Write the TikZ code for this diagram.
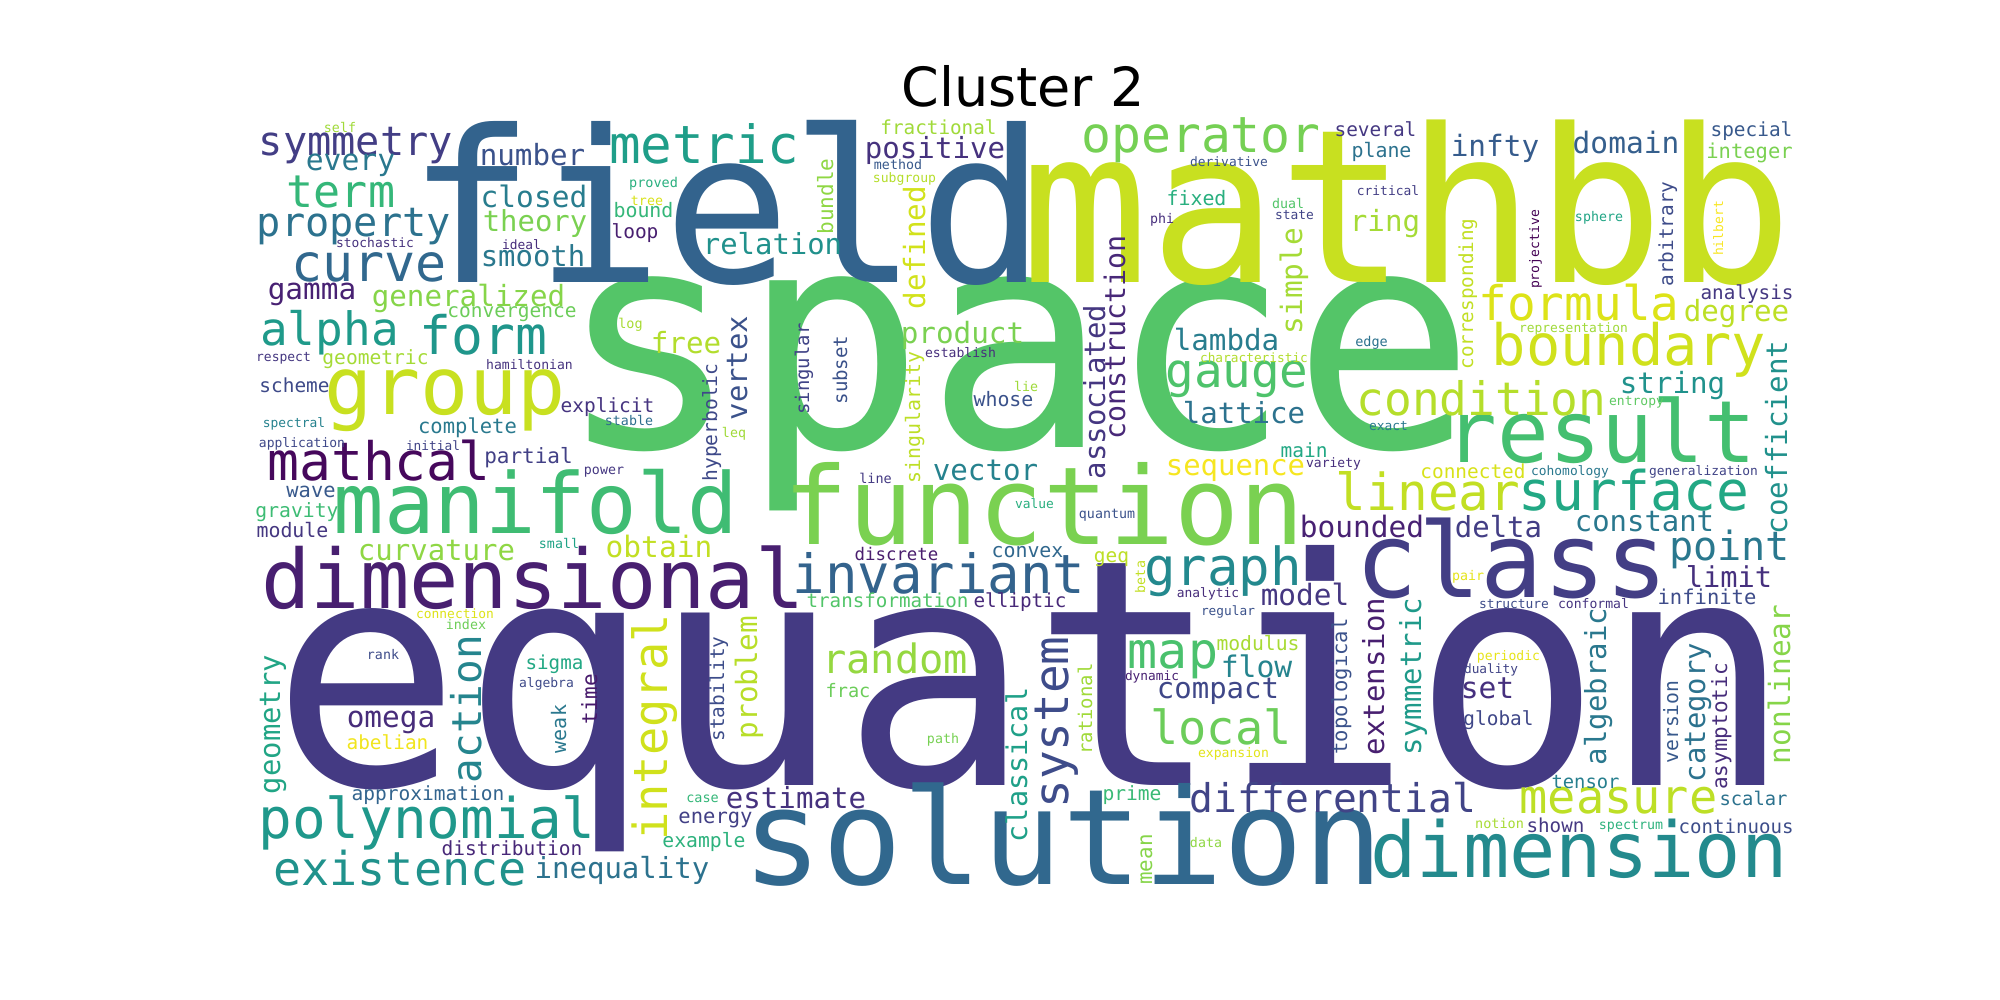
\documentclass[tikz,border=0pt]{standalone}
\usepackage{fontspec}
\newfontfamily\wcfont{DejaVu Sans Mono}
\newfontfamily\ttlfont{DejaVu Sans}
\tikzset{wordbox/.style={inner sep=0pt, outer sep=0pt, anchor=base}}
\newcommand\wrd[6]{\definecolor{wcol}{HTML}{#5}\node[wordbox, text=wcol, font=\wcfont\fontsize{#4}{#4}\selectfont, rotate=#6] (w-#1) at (#2,#3) {#1};}
\begin{document}
\begin{tikzpicture}[x=1pt,y=-1pt]
\fill[white] (0,0) rectangle (2000,1000);
\useasboundingbox (0,0) rectangle (2000,1000);
\node[wordbox, font=\ttlfont\fontsize{54}{54}\selectfont] (title) at (1023,107) {Cluster 2};
% big words
\wrd{equation}{1032}{785}{316}{443A83}{0}
\wrd{space}{1017}{447}{305}{54C568}{0}
\wrd{field}{727}{283}{212}{33638D}{0}
\wrd{mathbb}{1407}{283}{214}{C8E020}{0}
\wrd{solution}{1063}{884}{133}{31688E}{0}
\wrd{function}{1044}{544}{108}{7AD151}{0}
\wrd{class}{1512}{597}{104}{433E85}{0}
\wrd{result}{1601}{462}{86}{44BF70}{0}
\wrd{manifold}{536}{533}{84}{3FBC73}{0}
\wrd{dimensional}{533}{608}{82}{481F70}{0}
\wrd{group}{445}{414}{80}{C8E020}{0}
\wrd{dimension}{1579}{877}{77}{238A8D}{0}
\wrd{polynomial}{427}{838}{56}{1F988B}{0}
\wrd{boundary}{1629}{365}{57}{D0E11C}{0}
\wrd{invariant}{939}{593}{54}{33638D}{0}
\wrd{surface}{1634}{510}{54.6}{22A884}{0}
\wrd{mathcal}{379}{480}{53}{46085C}{0}
\wrd{metric}{704}{164}{52.6}{1F9E89}{0}
\wrd{graph}{1223}{585}{52.4}{23898E}{0}
\wrd{curve}{369}{282}{51.7}{31688E}{0}
\wrd{linear}{1428}{510}{51}{C2DF23}{0}
\wrd{map}{1173}{668}{50}{4AC16D}{0}
\wrd{operator}{1201}{153}{49.7}{75D054}{0}
\wrd{term}{341}{208}{45}{35B779}{0}
\wrd{formula}{1579}{320}{47.7}{DDE318}{0}
\wrd{gauge}{1237}{387}{47.6}{4EC36B}{0}
\wrd{alpha}{329.5}{345}{46}{1F9A8A}{0}
\wrd{measure}{1618.5}{813}{47}{BDDF26}{0}
\wrd{local}{1221}{744}{46.9}{6CCD5A}{0}
\wrd{existence}{400}{885}{46.7}{20928C}{0}
\wrd{condition}{1481.5}{415}{46.1}{B5DE2B}{0}
\wrd{form}{483.5}{355}{53}{1F968B}{0}
\wrd{random}{895}{673}{40.4}{95D840}{0}
\wrd{symmetry}{356}{156}{40.3}{433E85}{0}
\wrd{property}{354}{237}{40.3}{2C728E}{0}
\wrd{point}{1729.5}{560}{40.2}{2A788E}{0}
\wrd{differential}{1333}{812}{39.6}{414487}{0}
% size ~29
\wrd{every}{350.5}{171}{29.7}{2A788E}{0}
\wrd{number}{532.5}{166}{29.2}{3B528B}{0}
\wrd{closed}{534}{208}{29.5}{287D8E}{0}
\wrd{theory}{535}{232}{28.9}{7AD151}{0}
\wrd{smooth}{533}{267}{28.9}{2A788E}{0}
\wrd{gamma}{312}{300}{29.4}{482173}{0}
\wrd{generalized}{468.5}{307}{29.2}{86D549}{0}
\wrd{relation}{772.5}{255}{28.9}{21918C}{0}
\wrd{positive}{935}{159}{29.1}{46327E}{0}
\wrd{free}{686}{353}{29.2}{B2DD2D}{0}
\wrd{product}{962.5}{344}{29.3}{7AD151}{0}
\wrd{curvature}{436.5}{560}{29}{8FD744}{0}
\wrd{obtain}{659}{557}{29.5}{C2DF23}{0}
\wrd{vector}{985.5}{480}{29.2}{26828E}{0}
\wrd{omega}{391}{727}{29.4}{472C7A}{0}
\wrd{inequality}{622}{878}{29}{2C728E}{0}
\wrd{estimate}{796}{808}{29.1}{46327E}{0}
\wrd{compact}{1218}{698}{29}{3F4788}{0}
\wrd{set}{1487.5}{698}{29.6}{46307E}{0}
\wrd{ring}{1385}{232}{29.2}{A5DB36}{0}
\wrd{lambda}{1226.5}{350}{29.2}{287D8E}{0}
\wrd{infty}{1495}{157}{29.4}{365C8D}{0}
\wrd{domain}{1626}{154}{29.5}{355F8D}{0}
\wrd{degree}{1736.5}{322}{29.2}{BDDF26}{0}
\wrd{string}{1672.5}{393}{29.2}{20928C}{0}
\wrd{bounded}{1362}{537}{29.5}{482173}{0}
\wrd{delta}{1498.5}{537}{29}{433E85}{0}
\wrd{constant}{1644.5}{531}{28.9}{2A788E}{0}
\wrd{limit}{1729}{587}{28.7}{46307E}{0}
\wrd{sequence}{1235.5}{475}{28.9}{F6E620}{0}
\wrd{lattice}{1244}{423}{29}{2C728E}{0}
\wrd{model}{1305}{605}{29.4}{453781}{0}
\wrd{flow}{1256.5}{677}{29.7}{25848E}{0}
% size ~20
\wrd{convergence}{512}{318}{19.5}{6CCD5A}{0}
\wrd{geometric}{375.5}{364}{19.6}{A5DB36}{0}
\wrd{scheme}{294.5}{392}{19.4}{3E4A89}{0}
\wrd{explicit}{607.5}{412}{19.5}{463480}{0}
\wrd{complete}{467.5}{433}{20.5}{29798E}{0}
\wrd{partial}{528.5}{463}{21}{424086}{0}
\wrd{wave}{311}{497}{20.4}{38598C}{0}
\wrd{gravity}{297}{517}{19.7}{3DBC74}{0}
\wrd{module}{292.5}{537}{19.9}{453781}{0}
\wrd{sigma}{554.5}{669}{19.2}{22A884}{0}
\wrd{abelian}{387.5}{749}{19.4}{F1E51D}{0}
\wrd{approximation}{428}{800}{19.5}{32648E}{0}
\wrd{distribution}{512}{855}{19.5}{482878}{0}
\wrd{energy}{715.5}{823}{20.5}{424086}{0}
\wrd{example}{704}{847}{19.7}{2DB27D}{0}
\wrd{fractional}{938.5}{135}{19.3}{A0DA39}{0}
\wrd{bound}{643.5}{218}{19.9}{35B779}{0}
\wrd{loop}{635}{239}{19.5}{481F70}{0}
\wrd{whose}{1003.5}{406}{19.9}{3B528B}{0}
\wrd{convex}{1027.5}{557}{19.9}{31688E}{0}
\wrd{discrete}{896.5}{560}{17.4}{4A1E6E}{0}
\wrd{elliptic}{1020}{607}{19.3}{482979}{0}
\wrd{transformation}{887.5}{607}{19.2}{52C569}{0}
\wrd{frac}{848}{697}{18.6}{6CCD5A}{0}
\wrd{global}{1498.5}{725}{19.4}{3F4788}{0}
\wrd{tensor}{1585.5}{788}{18.8}{277F8E}{0}
\wrd{prime}{1132}{800}{19.6}{3ABA76}{0}
\wrd{scalar}{1753.5}{805}{18.8}{2C728E}{0}
\wrd{shown}{1555.5}{832}{19.2}{453882}{0}
\wrd{continuous}{1736}{833}{19.1}{3D4D8A}{0}
\wrd{several}{1375.5}{137}{19.4}{453882}{0}
\wrd{plane}{1381.5}{158}{19.9}{2C728E}{0}
\wrd{fixed}{1196.5}{206}{19.9}{29AF7F}{0}
\wrd{special}{1751.5}{137}{19.4}{38598C}{0}
\wrd{integer}{1749.5}{159}{20.5}{7AD151}{0}
\wrd{analysis}{1747}{300}{19.3}{453882}{0}
\wrd{connected}{1473}{478}{19.4}{D8E219}{0}
\wrd{infinite}{1707}{604}{20.5}{3E4C8A}{0}
\wrd{main}{1304}{457}{19.5}{22A884}{0}
\wrd{geq}{1111.5}{562}{19.5}{BDDF26}{0}
\wrd{modulus}{1258}{650}{19.7}{A8DB34}{0}
% size ~13
\wrd{self}{340}{133}{13.3}{A0DA39}{0}
\wrd{stochastic}{375}{248}{12.9}{46327E}{0}
\wrd{ideal}{521.5}{250}{12.9}{472D7B}{0}
\wrd{respect}{283.5}{361}{13}{453781}{0}
\wrd{hamiltonian}{529.5}{370}{13.1}{46337F}{0}
\wrd{spectral}{294}{427}{12.9}{26828E}{0}
\wrd{application}{302}{447}{13}{3F4889}{0}
\wrd{initial}{433}{450}{12.8}{414487}{0}
\wrd{power}{604}{474}{13.3}{453882}{0}
\wrd{small}{559}{548}{13.3}{20A386}{0}
\wrd{connection}{455}{618}{12.9}{DDE318}{0}
\wrd{index}{466}{629}{13.3}{6ECE58}{0}
\wrd{rank}{383}{659}{13.3}{3E4C8A}{0}
\wrd{algebra}{546.5}{687}{13}{3E4A89}{0}
\wrd{case}{702.5}{802}{13.5}{35B779}{0}
\wrd{path}{943}{743}{13.3}{77D153}{0}
\wrd{method}{898}{170}{13.3}{38598C}{0}
\wrd{subgroup}{904.5}{183}{13.1}{B5DE2B}{0}
\wrd{proved}{653.5}{188}{13.5}{2AB07F}{0}
\wrd{tree}{647}{206}{13.3}{D8E219}{0}
\wrd{log}{630.5}{328}{13.5}{A8DB34}{0}
\wrd{establish}{960.5}{357}{13.1}{472F7D}{0}
\wrd{leq}{734}{437}{13.3}{A0DA39}{0}
\wrd{lie}{1026}{391}{13.3}{9FDA3A}{0}
\wrd{stable}{629}{425}{13.3}{2E6E8E}{0}
\wrd{line}{875.5}{483}{13.5}{443A83}{0}
\wrd{value}{1034.5}{508}{12.9}{29AF7F}{0}
\wrd{expansion}{1233.5}{757}{13.1}{E2E418}{0}
\wrd{data}{1206}{847}{13.3}{8FD744}{0}
\wrd{notion}{1499.5}{828}{13.5}{A8DB34}{0}
\wrd{spectrum}{1631}{829}{13.3}{2DB27D}{0}
\wrd{derivative}{1229}{167}{12.9}{3B528B}{0}
\wrd{critical}{1388}{196}{12.9}{433E85}{0}
\wrd{dual}{1288}{209}{13.3}{52C569}{0}
\wrd{state}{1294.5}{220}{12.9}{414487}{0}
\wrd{phi}{1162}{224}{13.3}{472F7D}{0}
\wrd{characteristic}{1254}{362}{12.8}{B2DD2D}{0}
\wrd{edge}{1371.5}{346}{13.5}{2C728E}{0}
\wrd{sphere}{1599}{222}{13.3}{21A585}{0}
\wrd{representation}{1573.5}{333}{12.9}{A0DA39}{0}
\wrd{entropy}{1636.5}{405}{13}{5EC962}{0}
\wrd{exact}{1388.5}{430}{12.9}{29798E}{0}
\wrd{cohomology}{1570}{475}{12.9}{2A788E}{0}
\wrd{generalization}{1703.5}{475}{12.9}{414487}{0}
\wrd{pair}{1468}{580}{13.3}{E5E419}{0}
\wrd{structure}{1514}{608}{12.9}{3E4C8A}{0}
\wrd{conformal}{1593.5}{608}{13.1}{463480}{0}
\wrd{periodic}{1508.5}{660}{13.1}{E7E419}{0}
\wrd{duality}{1491}{673}{12.8}{414487}{0}
\wrd{variety}{1333.5}{467}{13}{472F7D}{0}
\wrd{quantum}{1107}{518}{13.3}{3B528B}{0}
\wrd{analytic}{1208}{597}{12.9}{472D7B}{0}
\wrd{regular}{1228}{615}{12.8}{3B528B}{0}
\wrd{dynamic}{1152}{680}{12.8}{482173}{0}
% vertical words
\wrd{integral}{667}{727.5}{47}{D0E11C}{90}
\wrd{system}{1068}{722.5}{47.7}{3E4C8A}{90}
\wrd{action}{481}{709}{41}{25858E}{90}
\wrd{geometry}{280}{724.5}{28.9}{21A585}{90}
\wrd{classical}{1027}{765}{28.5}{1FA088}{90}
\wrd{construction}{1125}{337.5}{28.3}{482878}{90}
\wrd{associated}{1105}{392}{29}{453781}{90}
\wrd{simple}{1302}{281}{29.5}{A5DB36}{90}
\wrd{defined}{925}{247.5}{29.3}{D2E21B}{90}
\wrd{vertex}{747}{368}{28.9}{3B528B}{90}
\wrd{problem}{757}{677.5}{29.3}{B8DE29}{90}
\wrd{coefficient}{1787}{437.5}{29.2}{21918C}{90}
\wrd{extension}{1384}{676.5}{29}{481F70}{90}
\wrd{symmetric}{1421}{676.5}{29}{1F9A8A}{90}
\wrd{algebraic}{1606}{686.5}{29}{2A788E}{90}
\wrd{category}{1705}{712.5}{28.9}{2C728E}{90}
\wrd{nonlinear}{1790}{684.5}{29.4}{86D549}{90}
\wrd{bundle}{833}{196.5}{21}{8FD744}{90}
\wrd{corresponding}{1473}{294}{19.3}{C2DF23}{90}
\wrd{arbitrary}{1673}{234}{19.4}{3E4C8A}{90}
\wrd{hyperbolic}{717}{422.5}{19.6}{3E4989}{90}
\wrd{singularity}{920}{417.5}{19.9}{BDDF26}{90}
\wrd{singular}{809}{369}{18.9}{414487}{90}
\wrd{subset}{847}{370}{19.1}{3B528B}{90}
\wrd{stability}{724}{689}{19.4}{3D4D8A}{90}
\wrd{weak}{566}{729}{20}{2A788E}{90}
\wrd{time}{597}{699}{21}{481A6C}{90}
\wrd{topological}{1347}{686.5}{20.5}{3B528B}{90}
\wrd{version}{1678}{722}{19.7}{38598C}{90}
\wrd{asymptotic}{1727}{726.5}{21}{472D7B}{90}
\wrd{rational}{1092}{709}{18.9}{A0DA39}{90}
\wrd{mean}{1152}{859.5}{20.8}{86D549}{90}
\wrd{projective}{1539}{249.5}{13.1}{440154}{90}
\wrd{hilbert}{1723}{228.5}{13}{F8E621}{90}
\wrd{beta}{1145}{577}{13.3}{C2DF23}{90}
\end{tikzpicture}
\end{document}
